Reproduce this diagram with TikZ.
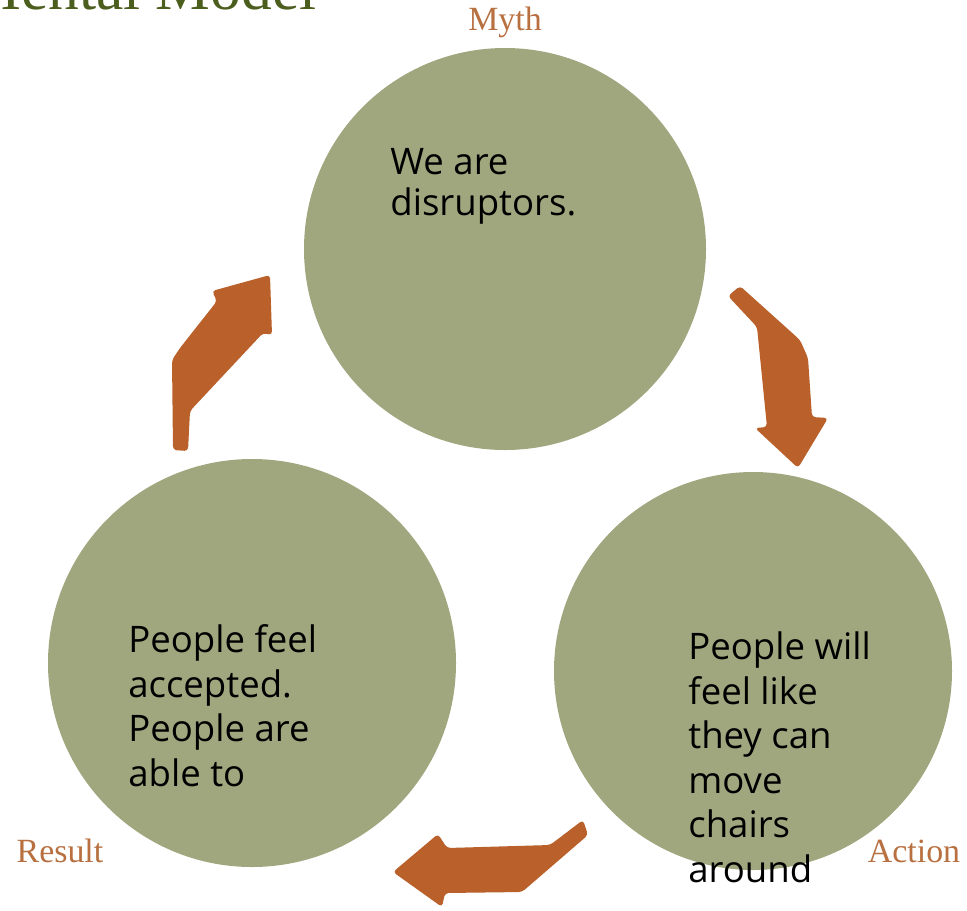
\documentclass[tikz,border=0pt]{standalone}
\usepackage{fontspec}
\setmainfont{Liberation Serif}
\newfontfamily\bodyfont{Open Sans}
\usepackage{tikz}
\tikzset{>=latex}
\definecolor{sage}{RGB}{160,167,127}
\definecolor{rust}{RGB}{185,96,43}
\definecolor{labeltext}{RGB}{184,112,64}
\definecolor{titletext}{RGB}{75,94,30}
\tikzset{
  stage/.style={circle, fill=sage, inner sep=0pt},
  stagetext/.style={anchor=base west, inner sep=0pt, align=left, text=black,
    font=\bodyfont\fontsize{20.8}{25.3}\selectfont},
  steplabel/.style={anchor=base, inner sep=0pt, text=labeltext,
    font=\fontsize{19.3}{22}\selectfont}
}

\begin{document}
\begin{tikzpicture}[x=0.2mm, y=-0.2mm]
            \useasboundingbox (0,0) rectangle (967,910);
            \node[anchor=base west, inner sep=0pt, text=titletext, font=\fontsize{35}{40}\selectfont] (title) at (-34,9) {Mental Model};
            % the three stages
            \node[stage, minimum size=80.4mm] (myth) at (505,249) {};
            \node[stage, minimum size=79.6mm] (action) at (753,671) {};
            \node[stage, minimum size=81.6mm] (result) at (252,663) {};
            % base is the last line of each text
            \node[stagetext, font=\bodyfont\fontsize{20.8}{22.8}\selectfont] (mythtext) at (390,215) {We are\\disruptors.};
            \node[stagetext] (actiontext) at (688,882) {People will\\feel like\\they can\\move\\chairs\\around};
            \node[stagetext] (resulttext) at (128,786) {People feel\\accepted.\\People are\\able to};
            \node[steplabel] (mythlabel) at (505,30) {Myth};
            \node[steplabel] (actionlabel) at (914,862) {Action};
            \node[steplabel] (resultlabel) at (60,862) {Result};
            % arrows between the stages
            \fill[rust, rounded corners=2pt] (728,296) -- (740,286) -- (800,340) -- (808,358) -- (812,417) -- (828,418) -- (798,468) -- (755,428) -- (767,427) -- (757,327) -- cycle;
            \fill[rust, rounded corners=2pt] (583,820) -- (588,835) -- (522,892) -- (445,893) -- (442,907) -- (393,872) -- (438,834) -- (447,848) -- (550,845) -- cycle;
            \fill[rust, rounded corners=2pt] (173,450) -- (172,360) -- (180,348) -- (217,301) -- (212,291) -- (270,275) -- (272,335) -- (263,333) -- (190,411) -- (188,451) -- cycle;
        \end{tikzpicture}
\end{document}
